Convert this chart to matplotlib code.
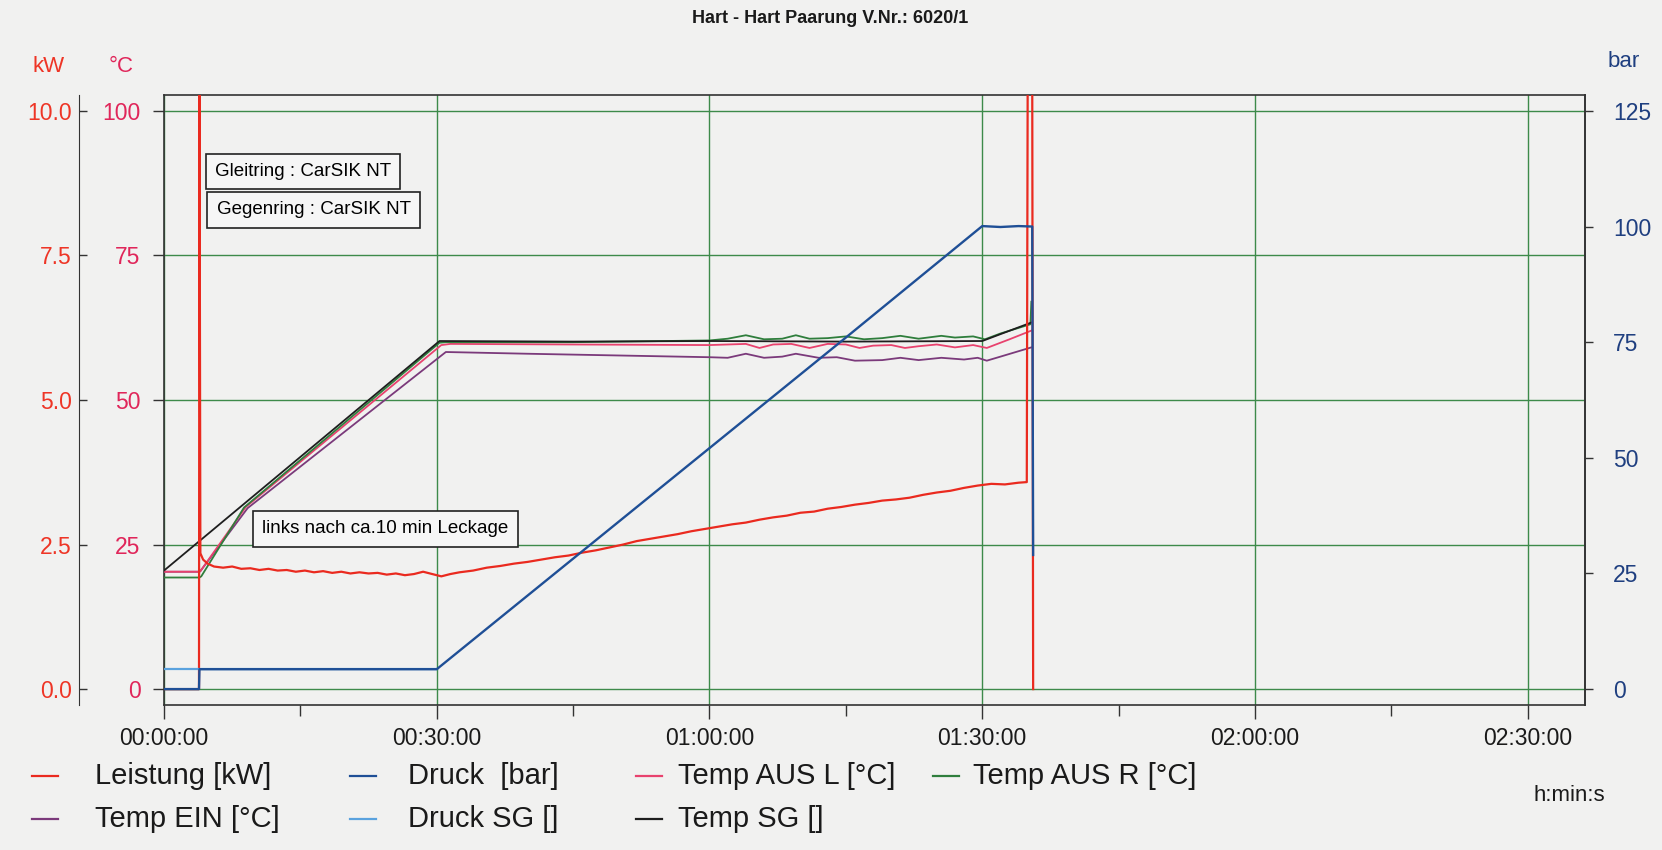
import matplotlib
matplotlib.use("Agg")
import matplotlib.pyplot as plt
from matplotlib.lines import Line2D
from matplotlib.ticker import FixedLocator

plt.rcParams['font.family'] = ['Liberation Sans', 'DejaVu Sans']

# ---------------- data ----------------
title = "Hart - Hart Paarung V.Nr.: 6020/1"
xticks_min = [0, 30, 60, 90, 120, 150]
xtick_labels = ["00:00:00", "00:30:00", "01:00:00", "01:30:00", "02:00:00", "02:30:00"]
xminor_min = [15, 45, 75, 105, 135]
temp_ticks = [0, 25, 50, 75, 100]
temp_tick_labels = ["0", "25", "50", "75", "100"]
kw_ticks = [0.0, 2.5, 5.0, 7.5, 10.0]
kw_tick_labels = ["0.0", "2.5", "5.0", "7.5", "10.0"]
bar_ticks = [0, 25, 50, 75, 100, 125]
bar_tick_labels = ["0", "25", "50", "75", "100", "125"]

# Leistung [kW]
t_power = [0, 3.85, 3.9, 4.0, 4.3, 4.8, 5.5, 6.5, 7.5, 8.5, 9.5, 10.5, 11.5, 12.5, 13.5, 14.5,
           15.5, 16.5, 17.5, 18.5, 19.5, 20.5, 21.5, 22.5, 23.5, 24.5, 25.5, 26.5, 27.5, 28.5,
           29.5, 30.5, 31.5, 32.5, 34, 35.5, 37, 38.5, 40, 41.5, 43, 44.5, 46, 47.5, 49, 50.5,
           52, 53.5, 55, 56.5, 58, 59.5, 61, 62.5, 64, 65.5, 67, 68.5, 70, 71.5, 73, 74.5, 76,
           77.5, 79, 80.5, 82, 83.5, 85, 86.5, 88, 89.5, 91, 92.5, 94, 94.9, 95.0, 95.5, 95.6]
power = [0, 0, 10.6, 2.35, 2.24, 2.17, 2.12, 2.10, 2.12, 2.08, 2.09, 2.06, 2.08, 2.05, 2.06, 2.03,
         2.05, 2.02, 2.04, 2.01, 2.03, 2.00, 2.02, 2.00, 2.01, 1.98, 2.00, 1.97, 1.99, 2.03,
         1.99, 1.95, 1.99, 2.02, 2.05, 2.10, 2.13, 2.17, 2.20, 2.24, 2.28, 2.31, 2.36, 2.40, 2.45, 2.50,
         2.56, 2.60, 2.64, 2.68, 2.73, 2.77, 2.81, 2.85, 2.88, 2.93, 2.97, 3.00, 3.05, 3.07, 3.12, 3.15, 3.19,
         3.22, 3.26, 3.28, 3.31, 3.36, 3.40, 3.43, 3.48, 3.52, 3.55, 3.54, 3.57, 3.58, 10.6, 10.6, 0]

# Druck [bar]
t_druck = [0, 3.85, 3.9, 30, 45, 60, 75, 90, 92, 94, 95.5, 95.6]
druck = [0, 0, 4.3, 4.3, 28.2, 52.1, 76.0, 100.1, 99.9, 100.1, 100.0, 29.0]

# Druck SG []
t_druck_sg = [0, 30]
druck_sg = [4.3, 4.3]

# Temp SG [°C]
t_temp_sg = [0, 30.3, 45, 60, 75, 90, 95.4]
temp_sg = [20.5, 60.2, 60.1, 60.2, 60.1, 60.2, 63.4]

# Temp AUS R [°C]
t_aus_r = [0, 3.9, 4.1, 8.8, 30.3, 31, 45, 60, 62, 64, 66, 68, 69.5, 71, 73, 75, 77, 79, 81,
           83, 85.5, 87, 89, 90.3, 92, 95.3, 95.4]
aus_r = [19.3, 19.3, 19.5, 31.4, 59.9, 60.0, 60.0, 60.3, 60.6, 61.2, 60.5, 60.6, 61.2, 60.6, 60.7,
         61.0, 60.5, 60.7, 61.1, 60.6, 61.1, 60.8, 61.0, 60.5, 61.5, 63.1, 67.0]

# Temp AUS L [°C]
t_aus_l = [0, 3.9, 4.0, 9.0, 30.5, 31.5, 45, 60, 62, 64, 65.5, 67, 69, 71, 73, 75, 76.5, 78,
           80, 81.5, 83, 85, 87, 89, 90.5, 93, 95.4]
aus_l = [20.3, 20.3, 20.4, 31.5, 59.5, 59.7, 59.6, 59.5, 59.6, 59.7, 59.0, 59.6, 59.7, 59.0, 59.7,
         59.6, 59.0, 59.4, 59.5, 59.0, 59.3, 59.6, 59.1, 59.5, 59.0, 60.5, 62.0]

# Temp EIN [°C]
t_ein = [0, 3.9, 4.0, 9.2, 31, 40, 50, 60, 62, 64, 66, 68, 69.5, 72, 74, 76, 79, 81, 83,
         85.5, 88, 89.5, 90.5, 92, 95.4]
ein = [20.3, 20.3, 20.4, 31.3, 58.3, 58.0, 57.7, 57.4, 57.3, 58.0, 57.3, 57.5, 58.0, 57.3, 57.4,
       56.8, 56.9, 57.3, 56.9, 57.3, 57.0, 57.3, 56.8, 57.5, 59.1]

legend_labels = ["Leistung [kW]", "Druck  [bar]", "Temp AUS L [°C]", "Temp AUS R [°C]",
                 "Temp EIN [°C]", "Druck SG []", "Temp SG []"]

# ---------------- style ----------------
c_power = '#ea2a1f'
c_druck = '#1f4f96'
c_druck_sg = '#5aa2de'
c_aus_l = '#e8426e'
c_aus_r = '#2f7e3c'
c_ein = '#7b3a7b'
c_sg = '#1e1e1e'
c_grid = '#3d8a4a'
c_kw_lab = '#ee3526'
c_degc_lab = '#e0265a'
c_bar_lab = '#1f3f80'
bg = '#f1f1f0'

fig = plt.figure(figsize=(16.62, 8.5), dpi=100, facecolor=bg)
L, R, T, B = 164 / 1662, 1585 / 1662, 1 - 95 / 850, 1 - 705 / 850
ax = fig.add_axes([L, B, R - L, T - B])
ax.set_facecolor(bg)

y_lo, y_hi = -2.75, 102.75
ax.set_xlim(0, 156.3)
ax.set_ylim(y_lo, y_hi)

ax_kw = ax.twinx()
ax_kw.set_ylim(y_lo / 10, y_hi / 10)
ax_bar = ax.twinx()
ax_bar.set_ylim(y_lo * 1.25, y_hi * 1.25)

# temperatures on main axis
ax.plot(t_ein, ein, color=c_ein, lw=1.3, zorder=3)
ax.plot(t_aus_l, aus_l, color=c_aus_l, lw=1.3, zorder=3)
ax.plot(t_aus_r, aus_r, color=c_aus_r, lw=1.3, zorder=3)
ax.plot(t_temp_sg, temp_sg, color=c_sg, lw=1.3, zorder=3)

# power / pressure
ax_kw.plot(t_power, power, color=c_power, lw=1.6, zorder=3)
ax_bar.plot(t_druck_sg, druck_sg, color=c_druck_sg, lw=1.6, zorder=2)
ax_bar.plot(t_druck, druck, color=c_druck, lw=1.7, zorder=3)

# grid
ax.set_xticks(xticks_min)
ax.set_xticklabels(xtick_labels)
ax.xaxis.set_minor_locator(FixedLocator(xminor_min))
ax.set_yticks(temp_ticks)
ax.set_yticklabels(temp_tick_labels)
ax.grid(True, which='major', color=c_grid, lw=1.0)
ax.set_axisbelow(True)

for sp in ax.spines.values():
    sp.set_color('#333333')
    sp.set_linewidth(1.2)

ax.tick_params(axis='x', which='major', length=10, width=1, color='#333333',
               labelsize=16.5, pad=6, labelcolor='#1a1a1a')
ax.tick_params(axis='x', which='minor', length=8, width=1, color='#333333')
ax.tick_params(axis='y', which='major', length=8, width=1, color='#333333',
               labelsize=16.5, pad=9, labelcolor=c_degc_lab)

# kW axis on the far left
ax_kw.spines['right'].set_visible(False)
ax_kw.spines['top'].set_visible(False)
ax_kw.spines['bottom'].set_visible(False)
ax_kw.spines['left'].set_visible(True)
ax_kw.spines['left'].set_position(('axes', -0.06))
ax_kw.spines['left'].set_color('#333333')
ax_kw.yaxis.set_ticks_position('left')
ax_kw.yaxis.set_label_position('left')
ax_kw.set_yticks(kw_ticks)
ax_kw.set_yticklabels(kw_tick_labels)
ax_kw.tick_params(axis='y', direction='in', length=6, width=1, color='#333333',
                  labelsize=16.5, pad=5, labelcolor=c_kw_lab)

# bar axis on right
for s in ['left', 'top', 'bottom']:
    ax_bar.spines[s].set_visible(False)
ax_bar.spines['right'].set_color('#333333')
ax_bar.spines['right'].set_linewidth(1.2)
ax_bar.set_yticks(bar_ticks)
ax_bar.set_yticklabels(bar_tick_labels)
ax_bar.tick_params(axis='y', length=6, width=1, color='#333333', labelsize=16.5, pad=14,
                   labelcolor=c_bar_lab)

# annotation boxes
box = dict(boxstyle='square,pad=0.5', fc='#f6f6f6', ec='#222222', lw=1.2)
ax.text(5.6, 89.5, "Gleitring : CarSIK NT", fontsize=13.5, ha='left', va='center', bbox=box, zorder=5)
ax.text(5.8, 82.9, "Gegenring : CarSIK NT", fontsize=13.5, ha='left', va='center', bbox=box, zorder=5)
ax.text(10.8, 27.7, "links nach ca.10 min Leckage", fontsize=13.5, ha='left', va='center',
        bbox=box, zorder=5)

# titles / unit labels
fig.text(0.4995, 0.978, title, ha='center', va='center', fontsize=13, fontweight='bold',
         color='#1a1a1a')
fig.text(0.029, 0.922, "kW", ha='center', va='center', fontsize=16, color=c_kw_lab)
fig.text(0.073, 0.922, "°C", ha='center', va='center', fontsize=16, color=c_degc_lab)
fig.text(0.977, 0.928, "bar", ha='center', va='center', fontsize=16, color=c_bar_lab)
fig.text(0.966, 0.064, "h:min:s", ha='right', va='center', fontsize=16, color='#1a1a1a')

# legend (manual layout)
leg_colors = [c_power, c_druck, c_aus_l, c_aus_r, c_ein, c_druck_sg, c_sg]
col_x = [32 / 1662, 350 / 1662, 636 / 1662, 933 / 1662]
text_dx = [63 / 1662, 58 / 1662, 42 / 1662, 40 / 1662]
row_y = [1 - 776 / 850, 1 - 819 / 850]
hl = 26 / 1662
for i, (lab, col) in enumerate(zip(legend_labels, leg_colors)):
    r, c = (0, i) if i < 4 else (1, i - 4)
    x0 = col_x[c]
    y0 = row_y[r]
    fig.add_artist(Line2D([x0, x0 + hl], [y0, y0], color=col, lw=1.6, transform=fig.transFigure))
    fig.text(x0 + text_dx[c], y0, lab, ha='left', va='center', fontsize=21, color='#1a1a1a')

fig.savefig("out.png", dpi=100, facecolor=bg)
